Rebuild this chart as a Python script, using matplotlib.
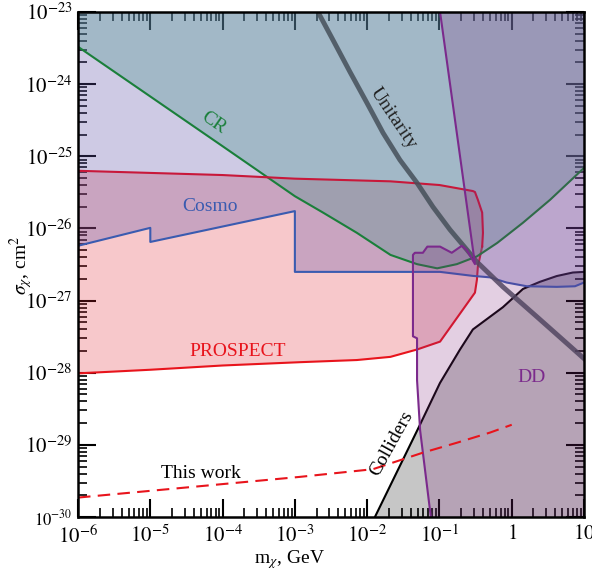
import matplotlib
matplotlib.use("Agg")
import matplotlib.pyplot as plt
from matplotlib.ticker import FixedLocator, LogLocator, FixedFormatter, NullFormatter

plt.rcParams['font.family'] = ['Liberation Serif', 'DejaVu Serif']
plt.rcParams['mathtext.fontset'] = 'stix'

# --- data (m in GeV, sigma in cm^2) ---
cr_m = [1e-6, 1e-4, 1e-3, 2.45e-3, 7.2e-3, 2.1e-2, 4.9e-2, 9.3e-2, 0.174, 0.33, 0.63, 1.43, 3.4, 10]
cr_s = [3.3e-24, 1.38e-25, 2.8e-26, 1.66e-26, 8.7e-27, 4.3e-27, 3.2e-27, 2.8e-27, 3.2e-27,
        4.1e-27, 6.3e-27, 1.2e-26, 2.5e-26, 6.9e-26]

cosmo_m = [1e-6, 1e-5, 1e-5, 1e-3, 1e-3, 0.102, 0.29, 0.5, 0.85, 1.62, 4.2, 7.5, 10]
cosmo_s = [5.75e-27, 1.02e-26, 6.5e-27, 1.74e-26, 2.5e-27, 2.5e-27, 2.2e-27, 2.1e-27,
           1.78e-27, 1.58e-27, 1.55e-27, 1.58e-27, 1.78e-27]

prospect_m = [1e-6, 1e-4, 1e-3, 2.1e-2, 0.1, 0.29, 0.31, 0.34, 0.39, 0.40, 0.39, 0.34, 0.33, 0.31,
              0.102, 0.049, 2.1e-2, 7.2e-3, 1.17e-3, 1e-4, 1e-5, 1e-6]
prospect_s = [6.3e-26, 5.5e-26, 4.9e-26, 4.5e-26, 4.0e-26, 3.3e-26, 3.2e-26, 2.5e-26, 1.66e-26,
              8.7e-27, 5.6e-27, 2.95e-27, 1.95e-27, 1.29e-27, 2.7e-28, 2.1e-28, 1.66e-28,
              1.5e-28, 1.4e-28, 1.26e-28, 1.1e-28, 9.8e-29]

dd_m = [0.076, 0.063, 0.054, 0.049, 0.049, 0.043, 0.043, 0.0457, 0.059, 0.068, 0.102, 0.148,
        0.204, 0.24, 0.31, 0.102]
dd_s = [1e-30, 4.6e-30, 1.6e-29, 7.9e-29, 3.0e-28, 3.2e-28, 4.3e-27, 4.6e-27, 4.6e-27, 5.6e-27,
        5.6e-27, 4.6e-27, 5.75e-27, 5.0e-27, 3.2e-27, 1e-23]

coll_m = [1.28e-2, 5.21e-2, 0.1016, 0.192, 0.29, 0.755, 1.43, 2.45, 4.2, 7.0, 10]
coll_s = [1e-30, 1.78e-29, 7.2e-29, 2.09e-28, 3.98e-28, 8.1e-28, 1.45e-27, 1.82e-27, 2.19e-27,
          2.45e-27, 2.5e-27]

unit_m = [2.09e-3, 3.37e-3, 5.78e-3, 9.93e-3, 1.66e-2, 2.84e-2, 4.89e-2, 8.13e-2, 0.140, 0.240,
          0.330, 0.755, 2.23, 5.1, 10]
unit_s = [1e-23, 4.09e-24, 1.48e-24, 5.5e-25, 2.11e-25, 8.9e-26, 4.29e-26, 1.99e-26, 9.6e-27,
          5.06e-27, 3.44e-27, 1.55e-27, 5.97e-28, 2.86e-28, 1.57e-28]

this_m = [1e-6, 1.17e-3, 1.2e-2, 5.9e-2, 0.174, 0.5, 1.0]
this_s = [1.86e-30, 3.6e-30, 4.6e-30, 7.8e-30, 1.07e-29, 1.48e-29, 1.9e-29]

xlim = (1e-6, 10)
ylim = (1e-30, 1e-23)
x_major = [1e-6, 1e-5, 1e-4, 1e-3, 1e-2, 1e-1, 1, 10]
x_labels = [r'$10^{-6}$', r'$10^{-5}$', r'$10^{-4}$', r'$10^{-3}$', r'$10^{-2}$', r'$10^{-1}$',
            r'$1$', r'$10$']
y_major = [1e-30, 1e-29, 1e-28, 1e-27, 1e-26, 1e-25, 1e-24, 1e-23]
y_labels = [r'$10^{-30}$', r'$10^{-29}$', r'$10^{-28}$', r'$10^{-27}$', r'$10^{-26}$',
            r'$10^{-25}$', r'$10^{-24}$', r'$10^{-23}$']

fig = plt.figure(figsize=(5.92, 5.73), dpi=100)
ax = fig.add_axes([0.1318, 0.0977, 0.8547, 0.8813])
ax.set_xscale('log')
ax.set_yscale('log')
ax.set_xlim(*xlim)
ax.set_ylim(*ylim)

# colliders (grey, below the curve)
ax.fill(coll_m + [xlim[1]], coll_s + [ylim[0]], color=(0.39, 0.39, 0.39), alpha=0.36, lw=0, zorder=1)
ax.plot(coll_m, coll_s, color='black', lw=1.5, zorder=1.1)

# PROSPECT
ax.fill(prospect_m, prospect_s, color='#e32733', alpha=0.25, lw=0, zorder=2)
ax.plot(prospect_m[10:] + prospect_m[:1], prospect_s[10:] + prospect_s[:1], color='#e8141c',
        lw=1.5, zorder=2.1)

# Cosmo (above the blue line)
ax.fill(cosmo_m + [xlim[1], xlim[0]], cosmo_s + [ylim[1], ylim[1]], color='#5f52a8', alpha=0.3,
        lw=0, zorder=3)
ax.plot(cosmo_m, cosmo_s, color='#3a5bb0', lw=1.5, zorder=3.1)

# CR (above the green line)
ax.fill(cr_m + [xlim[1], xlim[0]], cr_s + [ylim[1], ylim[1]], color='#519892', alpha=0.35,
        lw=0, zorder=4)
ax.plot(cr_m, cr_s, color='#1a7f3a', lw=1.5, zorder=4.1)

# upper PROSPECT edge sits under the other fills, so it reads darker
ax.plot(prospect_m[:11], prospect_s[:11], color='#c8183a', lw=1.5, zorder=4.2)

# unitarity
ax.plot(unit_m, unit_s, color='#46505a', lw=3.5, alpha=0.85, zorder=5)

# DD
ax.fill(dd_m + [xlim[1], xlim[1]], dd_s + [ylim[1], ylim[0]], color='#80287f', alpha=0.22,
        lw=0, zorder=6)
ax.plot(dd_m, dd_s, color='#7b2a8c', lw=1.5, zorder=6.1)

# this work
ax.plot(this_m, this_s, color='#e8141c', lw=1.5, ls=(0, (6, 3.5)), zorder=7)

# labels
lab = dict(fontsize=14, ha='center', va='center', zorder=8)
ax.text(7.4e-5, 2.9e-25, 'CR', color='#1a7f3a', rotation=-35, **lab)
ax.text(6.8e-5, 2.0e-26, 'Cosmo', color='#3a5bb0', **lab)
ax.text(0.023, 3.4e-25, 'Unitarity', color='#222222', rotation=-56, **lab)
ax.text(1.6e-4, 2.0e-28, 'PROSPECT', color='#e8141c', **lab)
ax.text(5.0e-5, 4.0e-30, 'This work', color='black', **lab)
ax.text(0.0218, 1.05e-29, 'Colliders', color='black', rotation=61, **lab)
ax.text(1.9, 8.7e-29, 'DD', color='#7b2a8c', **lab)

# axes cosmetics
ax.xaxis.set_major_locator(FixedLocator(x_major))
ax.xaxis.set_major_formatter(FixedFormatter(x_labels))
ax.yaxis.set_major_locator(FixedLocator(y_major))
ax.yaxis.set_major_formatter(FixedFormatter(y_labels))
ax.xaxis.set_minor_locator(LogLocator(base=10, subs=range(2, 10), numticks=20))
ax.yaxis.set_minor_locator(LogLocator(base=10, subs=range(2, 10), numticks=20))
ax.xaxis.set_minor_formatter(NullFormatter())
ax.yaxis.set_minor_formatter(NullFormatter())
ax.tick_params(which='both', direction='in', top=True, right=True, labelsize=15, zorder=10)
ax.tick_params(which='major', length=13, width=1.5)
ax.tick_params(which='minor', length=6.5, width=1.2)
ax.tick_params(axis='x', pad=6)
ax.tick_params(axis='y', pad=4)
for sp in ax.spines.values():
    sp.set_linewidth(1.8)
    sp.set_zorder(10)
ax.get_yticklabels()[0].set_fontsize(12)

fig.text(289 / 592, 1 - 560 / 573, r'm$_\chi$, GeV', fontsize=14, ha='center', va='center')
fig.text(21 / 592, 1 - 265 / 573, r'$\sigma_\chi$, cm$^2$', fontsize=14, ha='center', va='center',
         rotation=90)

fig.savefig('out.png', dpi=100)
